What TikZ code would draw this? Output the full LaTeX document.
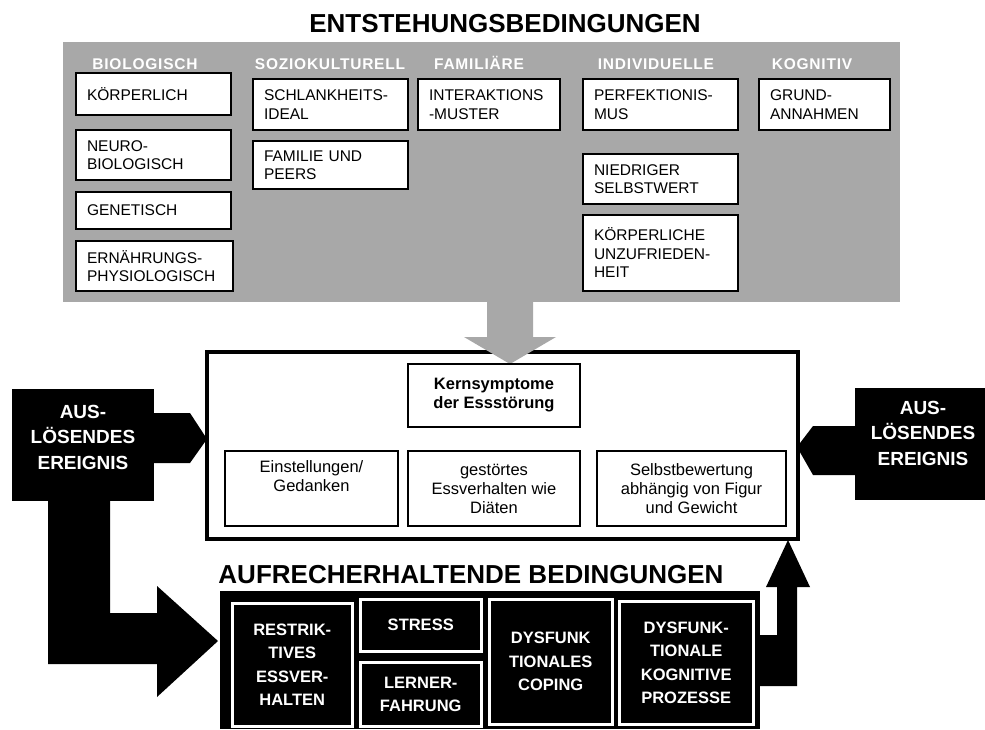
\documentclass[tikz,border=0pt]{standalone}
\usepackage{fontspec}
\setmainfont{Liberation Sans}
\definecolor{panelgrau}{RGB}{168,168,168}
\begin{document}
\begin{tikzpicture}[x=1pt, y=-1pt,
		titel/.style={font=\bfseries\fontsize{26}{30}\selectfont},
		kat/.style={anchor=base, text=white, font=\bfseries\fontsize{15.5}{18}\selectfont\addfontfeature{LetterSpace=5}},
		bed/.style={draw, line width=2pt, fill=white, anchor=north west, align=left, inner xsep=11pt, font=\fontsize{15.5}{18.5}\selectfont},
		symp/.style={draw, line width=2pt, fill=white, anchor=north west, align=center, font=\fontsize{16.5}{19}\selectfont},
		aufr/.style={draw=white, line width=2.5pt, fill=black, text=white, anchor=north west, align=center, font=\bfseries\fontsize{16.5}{23.5}\selectfont},
		weiss/.style={text=white, align=center, font=\bfseries\fontsize{19}{25.5}\selectfont}]
		\useasboundingbox (0,0) rectangle (985,729);
		\fill[white] (0,0) rectangle (985,729);

		% Entstehungsbedingungen
		\node[titel] (titelE) at (505,24) {ENTSTEHUNGSBEDINGUNGEN};
		\node[fill=panelgrau, anchor=north west, minimum width=837, minimum height=260] (entst) at (63,42) {};

		\node[bed, minimum width=155, minimum height=42, text width=133] (koerper) at (75,72) {KÖRPERLICH};
		\node[bed, minimum width=155, minimum height=50, text width=133] (neuro) at (75,129) {NEURO-\\BIOLOGISCH};
		\node[bed, minimum width=155, minimum height=37, text width=133] (genet) at (75,191) {GENETISCH};
		\node[bed, minimum width=157, minimum height=50, text width=135] (ernaehr) at (75,240) {ERNÄHRUNGS-\\PHYSIOLOGISCH};
		\node[bed, minimum width=155, minimum height=51, text width=133] (schlank) at (252,78) {SCHLANKHEITS-\\IDEAL};
		\node[bed, minimum width=155, minimum height=48, text width=133] (peers) at (252,140) {FAMILIE UND\\PEERS};
		\node[bed, minimum width=142, minimum height=51, text width=120] (interakt) at (417,78) {INTERAKTIONS\\-MUSTER};
		\node[bed, minimum width=155, minimum height=51, text width=133] (perfekt) at (582,78) {PERFEKTIONIS-\\MUS};
		\node[bed, minimum width=155, minimum height=50, text width=133] (selbstwert) at (582,153) {NIEDRIGER\\SELBSTWERT};
		\node[bed, minimum width=155, minimum height=76, text width=133] (unzufr) at (582,214) {KÖRPERLICHE\\UNZUFRIEDEN-\\HEIT};
		\node[bed, minimum width=131, minimum height=51, text width=109] (grund) at (758,78) {GRUND-\\ANNAHMEN};

		\node[kat] (bio) at (145,69) {BIOLOGISCH};
		\node[kat] (sozio) at (330,69) {SOZIOKULTURELL};
		\node[kat] (fam) at (479,69) {FAMILIÄRE};
		\node[kat] (indiv) at (656,69) {INDIVIDUELLE};
		\node[kat] (kogn) at (812,69) {KOGNITIV};

		% Kernsymptome
		\node[draw, line width=4pt, fill=white, anchor=north west, minimum width=591, minimum height=187] (rahmen) at (205,350) {};
		\fill[panelgrau] (487,302) -- (487,337) -- (464,337) -- (510,364) -- (556,337) -- (533,337) -- (533,302) -- cycle;
		\node[symp, minimum width=172, minimum height=63, font=\bfseries\fontsize{16.5}{19}\selectfont] (kern) at (407,363) {Kernsymptome\\der Essstörung};
		\node[symp, minimum width=173, minimum height=75] (einst) at (224,450) {Einstellungen/\\Gedanken\\\strut};
		\node[symp, minimum width=172, minimum height=75] (essverh) at (407,450) {gestörtes\\Essverhalten wie\\Diäten};
		\node[symp, minimum width=189, minimum height=75] (bewert) at (596,450) {Selbstbewertung\\abhängig von Figur\\und Gewicht};

		% ausloesende Ereignisse
		\node[fill=black, anchor=north west, minimum width=142, minimum height=112] (ausL) at (12,389) {};
		\node[weiss] (ausLtext) at (83,437) {AUS-\\LÖSENDES\\EREIGNIS};
		\fill (154,413) -- (190,413) -- (207,439) -- (190,463) -- (154,463) -- cycle;
		\fill (48,501) -- (48,664) -- (157,664) -- (157,697) -- (218,641) -- (157,586) -- (157,613) -- (110,613) -- (110,501) -- cycle;
		\node[fill=black, anchor=north west, minimum width=130, minimum height=112] (ausR) at (855,388) {};
		\node[weiss] (ausRtext) at (923,433) {AUS-\\LÖSENDES\\EREIGNIS};
		\fill (855,426) -- (813,426) -- (797,447) -- (813,475) -- (855,475) -- cycle;

		% Aufrechterhaltende Bedingungen
		\node[titel] (titelA) at (471,575) {AUFRECHERHALTENDE BEDINGUNGEN};
		\node[fill=black, anchor=north west, minimum width=540, minimum height=138] (aufrecht) at (220,591) {};
		\fill (760,635) -- (777,635) -- (777,587) -- (766,587) -- (788,540) -- (810,587) -- (797,587) -- (797,686) -- (760,686) -- cycle;
		\node[aufr, minimum width=120, minimum height=123] (restr) at (231,602) {RESTRIK-\\TIVES\\ESSVER-\\HALTEN};
		\node[aufr, minimum width=121, minimum height=52] (stress) at (359,598) {STRESS};
		\node[aufr, minimum width=121, minimum height=64] (lerner) at (359,661) {LERNER-\\FAHRUNG};
		\node[aufr, minimum width=123, minimum height=125] (coping) at (488,598) {DYSFUNK\\TIONALES\\COPING};
		\node[aufr, minimum width=134, minimum height=123] (kognitiv) at (618,600) {DYSFUNK-\\TIONALE\\KOGNITIVE\\PROZESSE};
	\end{tikzpicture}
\end{document}
